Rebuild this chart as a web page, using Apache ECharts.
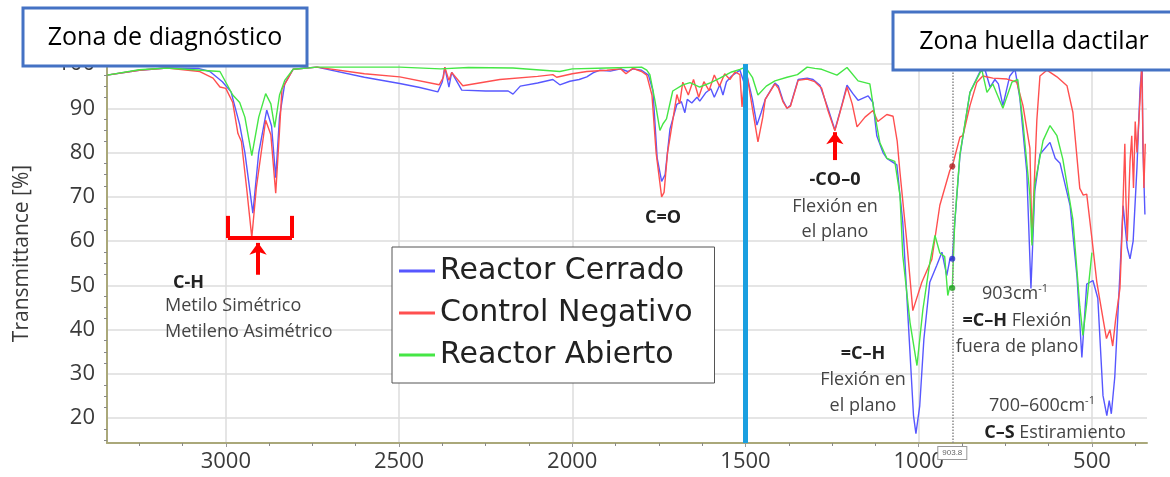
<!DOCTYPE html>
<html lang="es">
<head>
<meta charset="UTF-8">
<title>Espectro FTIR</title>
<script src="https://cdn.jsdelivr.net/npm/echarts@6/dist/echarts.min.js"></script>
<style>html, body { margin: 0; background: #fff; }</style>
</head>
<body>
<div id="main" style="width:1170px;height:477px;"></div>
<script>
var chart = echarts.init(document.getElementById('main'));

var seriesNames = ['Reactor Cerrado', 'Control Negativo', 'Reactor Abierto'];
var seriesColors = ['#5757ff', '#ff4f4f', '#45e645'];

var xTickLabels = [3000, 2500, 2000, 1500, 1000, 500];
var yTickLabels = [20, 30, 40, 50, 60, 70, 80, 90, 100];

// [numero de onda cm-1, transmitancia %]
var reactorCerrado = [
    [3343, 97.5], [3250, 98.6], [3170, 99.1], [3080, 99], [3046, 98.3], [3010, 96], [2985, 93.7],
    [2960, 86.3], [2945, 80], [2922, 66.3], [2905, 80], [2882, 89.6], [2868, 86], [2856, 74.3],
    [2845, 88], [2830, 95.5], [2806, 98.8], [2737, 99.3], [2600, 97], [2498, 95.6], [2440, 94.7],
    [2388, 93.7], [2375, 96], [2368, 99.3], [2356, 94.8], [2348, 98.1], [2319, 94.1], [2250, 93.9],
    [2185, 93.9], [2171, 93.2], [2150, 95], [2100, 95.7], [2056, 96.5], [2036, 95.3], [2007, 96.1],
    [1980, 96.5], [1958, 97.1], [1940, 98], [1920, 98.6], [1890, 98.4], [1860, 98.9], [1840, 98.3],
    [1825, 98.9], [1800, 98.6], [1780, 97.5], [1767, 93.9], [1755, 78.8], [1742, 73.5], [1732, 75],
    [1718, 85.3], [1698, 90.9], [1685, 91.5], [1675, 89], [1668, 92], [1655, 91.2], [1640, 92.5],
    [1632, 91.6], [1615, 93.5], [1600, 94.4], [1590, 92.5], [1574, 95.3], [1565, 93], [1555, 96],
    [1540, 97.3], [1516, 98.6], [1505, 96], [1496, 97.5], [1480, 92], [1467, 86.2], [1455, 89],
    [1443, 92], [1415, 95.7], [1405, 95], [1392, 91.8], [1380, 90], [1370, 90.7], [1348, 96.5],
    [1322, 96.8], [1305, 96.5], [1285, 95.2], [1262, 90], [1242, 85.1], [1222, 90.7], [1207, 95.2],
    [1190, 93.3], [1175, 91.8], [1146, 92.8], [1132, 91.3], [1121, 83.8], [1103, 80], [1092, 78.7],
    [1063, 77.2], [1046, 64.3], [1030, 41.6],
    [1015, 20.6], [1008, 16.5], [997, 22.8], [985, 37.9], [968, 50.7], [948, 54.5], [933, 57.5],
    [919, 52.2], [910, 55.9], [903, 56], [896, 64], [881, 79.3], [852, 93.6], [823, 98.3],
    [809, 98.8], [794, 94.8], [780, 96.5], [770, 95.5], [757, 90.6], [737, 97.3], [722, 98.8],
    [708, 92.3], [688, 75.6], [676, 49.3], [665, 71.3], [650, 79.6], [621, 82.3], [606, 78.7],
    [592, 77.6], [563, 68], [543, 51.9], [529, 33.7], [515, 50.3], [497, 51.1], [483, 47.1],
    [468, 25.1], [457, 20.6], [450, 24], [444, 21], [434, 29.3], [419, 52.9], [410, 68],
    [398, 58.5], [390, 56], [381, 60], [370, 76.6], [361, 94.7], [355, 100], [353, 82], [347, 66]
];

var controlNegativo = [
    [3343, 97.5], [3250, 98.6], [3170, 99.1], [3075, 98.3], [3037, 96.8], [3017, 94.8], [3000, 94.5],
    [2980, 91.3], [2965, 84.3], [2955, 82.5], [2940, 72], [2925, 60.8], [2912, 72], [2885, 87.3],
    [2870, 84], [2856, 70.8], [2845, 85], [2838, 94.3], [2806, 98.8], [2737, 99.3], [2600, 97.8],
    [2498, 97.1], [2384, 95.3], [2372, 97], [2368, 99.3], [2356, 96.3], [2348, 98.1], [2316, 95.1],
    [2209, 96.5], [2100, 97.2], [2056, 97.6], [2045, 97], [2000, 97.8], [1958, 98.3], [1900, 98.6],
    [1860, 98.9], [1845, 97.8], [1825, 99], [1800, 98.3], [1785, 97.5], [1770, 93], [1758, 80],
    [1742, 70], [1735, 71], [1725, 80], [1718, 83.3], [1698, 93.1], [1690, 91], [1681, 95.9],
    [1665, 93], [1650, 96.5], [1635, 92.5], [1620, 96], [1605, 94], [1590, 97.5], [1575, 95],
    [1560, 97.8], [1545, 96.5], [1530, 98.2], [1516, 97.6], [1510, 90.3], [1502, 97], [1496, 97.7],
    [1480, 90], [1464, 82.4], [1450, 88], [1443, 92], [1415, 95.5], [1405, 94.5], [1392, 91.5],
    [1380, 90], [1370, 90.5], [1348, 96.3], [1322, 96.6], [1300, 96], [1280, 94.5], [1262, 89.5],
    [1242, 84.9], [1222, 90.5], [1207, 94.8], [1192, 91], [1178, 85.8], [1155, 88], [1132, 89.5],
    [1118, 87], [1092, 88.6], [1074, 88.2], [1062, 82.5], [1054, 75.5], [1035, 60.4], [1017, 44.3],
    [991, 50.7], [962, 55.9], [939, 68.1],
    [910, 76], [903, 76.9], [881, 83.5], [872, 83.9], [852, 90.6], [832, 95.9], [815, 97.3],
    [786, 96.8], [745, 96.6], [717, 95.9], [699, 90.6], [679, 81], [673, 59.7], [668, 70],
    [659, 87.3], [650, 97.3], [630, 98.6], [601, 97.1], [572, 95.1], [555, 89.1], [535, 71.9],
    [525, 70.4], [515, 70.6], [500, 60.6], [486, 50.8], [468, 42.5], [458, 38], [448, 40],
    [440, 36.3], [432, 42], [419, 49.4], [412, 64], [405, 82], [402, 70], [398, 60], [390, 78],
    [385, 83.8], [380, 72], [375, 87], [370, 80], [361, 92], [356, 100], [353, 85], [350, 72], [346, 82]
];

var reactorAbierto = [
    [3343, 97.5], [3250, 98.7], [3170, 99.1], [3017, 98.3], [2980, 93], [2960, 91.3], [2945, 88],
    [2925, 79.3], [2905, 88], [2885, 93.3], [2870, 91], [2859, 85.7], [2845, 93], [2830, 96.3],
    [2806, 98.8], [2737, 99.3], [2498, 99.3], [2380, 98.9], [2300, 99.2], [2171, 99.1], [2036, 98.3],
    [2000, 98.9], [1900, 99.1], [1800, 99.3], [1785, 98.6], [1776, 97.6], [1762, 92], [1747, 85],
    [1738, 86.5], [1728, 87.6], [1710, 93.9], [1681, 95.3], [1660, 95.8], [1632, 94.8], [1600, 95.8],
    [1574, 96.8], [1540, 98.2], [1516, 98.8], [1500, 99.3], [1496, 99.6], [1480, 97], [1464, 93],
    [1440, 95], [1415, 96.2], [1380, 97], [1350, 97.6], [1322, 99.3], [1300, 99], [1280, 98.8],
    [1236, 97.5], [1207, 99.2], [1175, 96.2], [1141, 95.5], [1130, 90], [1112, 82.2], [1092, 78.7],
    [1069, 78], [1054, 70.3], [1046, 56.8], [1025, 41.6], [1005, 31.9], [988, 44.5], [968, 55.1],
    [953, 61.3], [939, 57.3], [925, 56.5], [916, 47.7], [910, 49.8], [903, 49.6], [896, 64.3],
    [881, 79.6], [852, 93.6], [818, 98.8], [803, 93.6], [786, 95.5], [757, 90], [731, 95.9],
    [714, 96.5], [699, 86.8], [679, 70.3], [673, 59], [665, 72.8], [641, 82.7], [621, 86.1],
    [601, 83.8], [584, 78.5], [555, 64.9], [535, 45.3], [526, 38.7], [515, 46], [500, 57.4]
];

var cursorX = 903;
var cursorY = [56, 76.9, 49.4];
var cursorColors = ['#2a2ad0', '#b02020', '#1f9f1f'];

var redLine = {color: '#ff0000', width: 4, type: 'solid'};

function seg(a, b, endSymbol) {
    return [
        {coord: a, symbol: 'none', lineStyle: redLine},
        {coord: b, symbol: endSymbol || 'none', symbolSize: [13, 12], lineStyle: redLine}
    ];
}

var dataSets = [reactorCerrado, controlNegativo, reactorAbierto];
var series = dataSets.map(function (d, i) {
    return {
        name: seriesNames[i],
        type: 'line',
        data: d,
        showSymbol: false,
        symbol: 'none',
        lineStyle: {width: 1.4, color: seriesColors[i]},
        itemStyle: {color: seriesColors[i]},
        z: 3
    };
});

series[0].markLine = {
    silent: true,
    symbol: 'none',
    animation: false,
    label: {show: false},
    data: [
        {xAxis: 1500, lineStyle: {color: '#1a9fe0', width: 5, type: 'solid'}},
        {
            xAxis: 903,
            lineStyle: {color: '#8a8a8a', width: 1.5, type: 'dotted'},
            label: {
                show: true, position: 'start', formatter: '903.8', distance: 4,
                fontSize: 8, color: '#666', backgroundColor: '#fff',
                borderColor: '#999', borderWidth: 1, padding: [2, 4]
            }
        },
        seg([2994, 65.7], [2994, 60.7]),
        seg([2994, 60.7], [2809, 60.7]),
        seg([2809, 60.7], [2809, 65.7]),
        seg([2907, 52.4], [2907, 59.6], 'arrow'),
        seg([1242, 78.3], [1242, 84.6], 'arrow')
    ]
};

series.push({
    name: 'cursor',
    type: 'scatter',
    symbolSize: 6,
    z: 6,
    data: cursorY.map(function (v, i) {
        return {value: [cursorX, v], itemStyle: {color: cursorColors[i]}};
    })
});

var noteFont = '18px "Open Sans"';
var rich = {
    b: {fontWeight: 'bold', fontFamily: 'Open Sans', fontSize: 18, fill: '#222', color: '#222'},
    s: {fontFamily: 'Open Sans', fontSize: 11, fill: '#444', color: '#444', padding: [0, 0, 10, 0]}
};

function note(x, y, text, align) {
    return {
        type: 'text', x: x, y: y, z: 50,
        style: {
            text: text, font: noteFont, fill: '#444',
            align: align || 'center', verticalAlign: 'middle',
            rich: rich
        }
    };
}

var graphics = [
    {type: 'rect', z: 100, shape: {x: 23, y: 8, width: 284, height: 58},
        style: {fill: '#fff', stroke: '#4472c4', lineWidth: 3}},
    {type: 'text', z: 101, x: 165, y: 38,
        style: {text: 'Zona de diagnóstico', font: '25px "Open Sans"', fill: '#000', align: 'center', verticalAlign: 'middle'}},
    {type: 'rect', z: 100, shape: {x: 893, y: 12, width: 300, height: 58},
        style: {fill: '#fff', stroke: '#4472c4', lineWidth: 3}},
    {type: 'text', z: 101, x: 1034, y: 42,
        style: {text: 'Zona huella dactilar', font: '25px "Open Sans"', fill: '#000', align: 'center', verticalAlign: 'middle'}},

    note(173, 283, '{b|C-H}', 'left'),
    note(165, 306, 'Metilo Simétrico', 'left'),
    note(165, 332, 'Metileno Asimétrico', 'left'),
    note(663, 218, '{b|C=O}'),
    note(835, 180, '{b|-CO–0}'),
    note(835, 207, 'Flexión en'),
    note(835, 232, 'el plano'),
    note(863, 354, '{b|=C–H}'),
    note(863, 380, 'Flexión en'),
    note(863, 406, 'el plano'),
    note(1015, 294, '903cm{s|-1}'),
    note(1017, 321, '{b|=C–H} Flexión'),
    note(1017, 347, 'fuera de plano'),
    note(1042, 406, '700–600cm{s|-1}'),
    note(1055, 433, '{b|C–S} Estiramiento')
];

var axisFont = {fontFamily: 'Open Sans', fontSize: 22, color: '#3a3a3a'};

chart.setOption({
    animation: false,
    backgroundColor: '#fff',
    grid: {left: 107, right: 23, top: 64, bottom: 34},
    legend: {
        data: seriesNames,
        orient: 'vertical',
        left: 392,
        top: 247,
        padding: [9, 22, 13, 7],
        itemWidth: 36,
        itemHeight: 3,
        itemGap: 12,
        icon: 'rect',
        backgroundColor: '#fff',
        borderColor: '#555',
        borderWidth: 1,
        textStyle: {fontFamily: 'DejaVu Sans', fontSize: 30, color: '#222', lineHeight: 30},
        z: 20
    },
    xAxis: {
        type: 'value',
        inverse: true,
        min: 341,
        max: 3343,
        splitNumber: 6,
        axisLine: {lineStyle: {color: '#aaa87a', width: 2}},
        axisTick: {show: true, customValues: xTickLabels, length: 4, lineStyle: {color: '#999'}},
        minorTick: {show: true, splitNumber: 4, length: 3, lineStyle: {color: '#888'}},
        axisLabel: Object.assign({
            customValues: xTickLabels, margin: 8,
            formatter: function (v) { return String(v); }
        }, axisFont),
        splitLine: {show: true, lineStyle: {color: '#dcdcdc', width: 1.5}}
    },
    yAxis: {
        type: 'value',
        min: 14.4,
        max: 100,
        splitNumber: 9,
        name: 'Transmittance [%]',
        nameLocation: 'middle',
        nameGap: 74,
        nameTextStyle: {fontFamily: 'Open Sans', fontSize: 21, color: '#3a3a3a'},
        axisLine: {show: true, lineStyle: {color: '#aaa87a', width: 2}},
        axisTick: {show: false, customValues: yTickLabels},
        minorTick: {show: true, splitNumber: 4, length: 3, lineStyle: {color: '#888'}},
        axisLabel: Object.assign({customValues: yTickLabels, margin: 12}, axisFont),
        splitLine: {show: true, lineStyle: {color: '#dcdcdc', width: 1.5}}
    },
    series: series,
    graphic: graphics
});
</script>
</body>
</html>
